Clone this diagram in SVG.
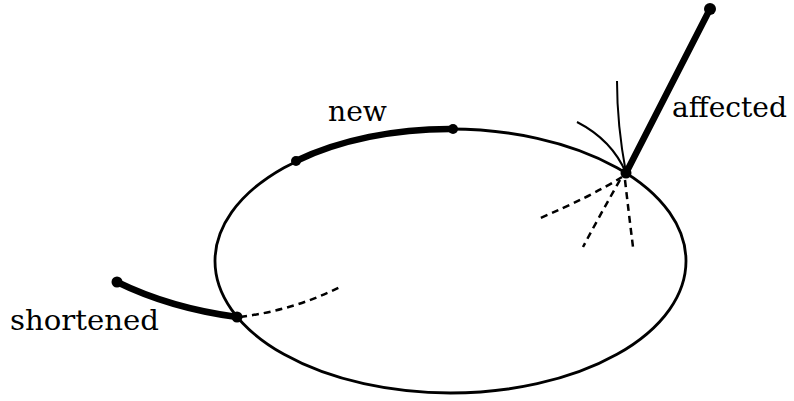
<svg xmlns="http://www.w3.org/2000/svg" width="794" height="401" viewBox="0 0 794 401">
<style>
.thin{fill:none;stroke:#000;stroke-width:2.8}
.fine{fill:none;stroke:#000;stroke-width:2}
.thick{fill:none;stroke:#000;stroke-width:6.5;stroke-linecap:round}
.dash{fill:none;stroke:#000;stroke-width:2.5;stroke-dasharray:7 5}
.dot{fill:#000}
.lbl{font-family:"DejaVu Serif","Liberation Serif",serif;font-size:28px;fill:#000}
</style>
<rect width="794" height="401" fill="#fff"/>
<g id="ellipse">
<ellipse class="thin" cx="450.5" cy="261" rx="235.5" ry="132"/>
</g>
<g id="connectors">
<path class="thick" d="M296,161 A235.5,132 0 0 1 453,129"/>
<circle class="dot" cx="296" cy="161" r="5"/>
<circle class="dot" cx="453" cy="129" r="5"/>
<path class="thick" d="M117,282 Q170,308 237,317"/>
<circle class="dot" cx="117" cy="282" r="5.5"/>
<circle class="dot" cx="237" cy="317" r="5.5"/>
<path class="dash" d="M240,317 Q295,310 342,286"/>
<path class="thick" d="M626,173 L710,9"/>
<circle class="dot" cx="710" cy="9" r="6"/>
<circle class="dot" cx="626" cy="173" r="5.5"/>
<path class="fine" d="M626,173 Q617,125 617,81"/>
<path class="fine" d="M626,173 Q612,140 577,122"/>
<path class="dash" d="M622,177 Q590,197 538,219"/>
<path class="dash" d="M620,180 Q600,215 583,247"/>
<path class="dash" d="M625,180 Q629,215 633,247"/>
</g>
<g id="labels">
<text class="lbl" x="328" y="121" textLength="59" lengthAdjust="spacingAndGlyphs">new</text>
<text class="lbl" x="672" y="117" textLength="115" lengthAdjust="spacingAndGlyphs">affected</text>
<text class="lbl" x="10" y="330" textLength="149" lengthAdjust="spacingAndGlyphs">shortened</text>
</g>
</svg>
